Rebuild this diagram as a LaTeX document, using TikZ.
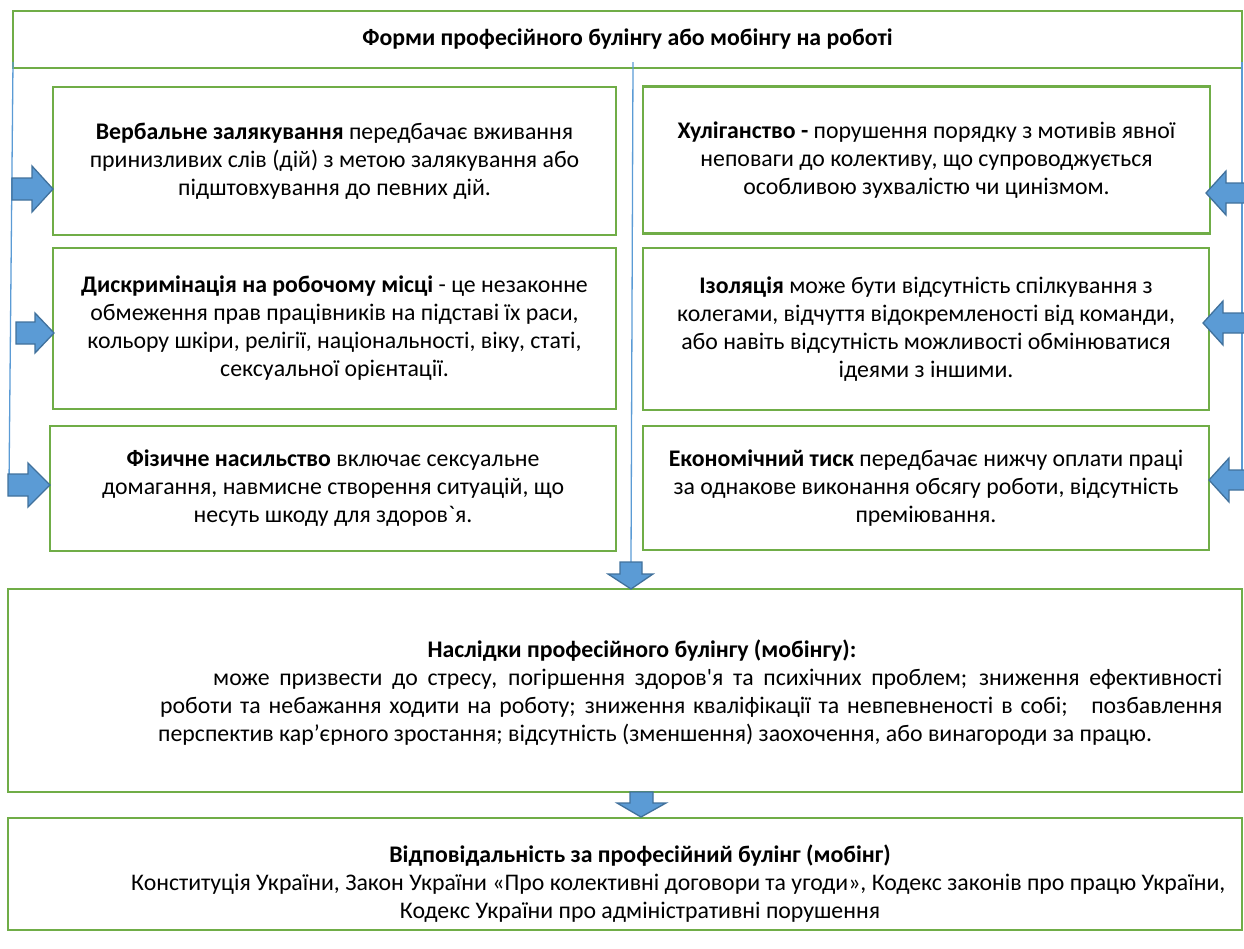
\documentclass[tikz,border=0pt]{standalone}
\usepackage{fontspec}
\setmainfont{Carlito}[Ligatures=TeXOff]
\definecolor{gr}{RGB}{112,173,71}
\definecolor{bl}{RGB}{91,155,213}
\definecolor{bld}{RGB}{65,113,156}
\tikzset{
  box/.style={draw=gr,line width=2.4pt,inner sep=0pt,align=center,font=\fontsize{23.8}{28}\selectfont},
  txt/.style={inner sep=0pt,font=\fontsize{23.8}{28}\selectfont},
  conn/.style={draw=bl,line width=1.3pt},
  barrow/.style={fill=bl,draw=bld,line width=1.3pt,line join=miter}
}
\begin{document}
\begin{tikzpicture}[x=1pt,y=-1pt]
\useasboundingbox (0,0) rectangle (1244,948);
% top box
\node[box,minimum width=1229pt,minimum height=57pt] (top) at (627.5,39.5)
  {\textbf{Форми професійного булінгу або мобінгу на роботі}};
% left column
\node[box,minimum width=563pt,minimum height=148pt] (b1) at (334.5,161)
  {\textbf{Вербальне залякування} передбачає вживання\\принизливих слів (дій) з метою залякування або\\підштовхування до певних дій.};
\node[box,minimum width=563pt,minimum height=161pt] (b2) at (334.5,328.5)
  {\textbf{Дискримінація на робочому місці} - це незаконне\\обмеження прав працівників на підставі їх раси,\\кольору шкіри, релігії, національності, віку, статі,\\сексуальної орієнтації.};
\node[box,minimum width=566pt,minimum height=125pt] (b3) at (333,488.5)
  {\textbf{Фізичне насильство} включає сексуальне\\домагання, навмисне створення ситуацій, що\\несуть шкоду для здоров`я.};
% right column
\node[box,minimum width=567pt,minimum height=147pt] (b4) at (926.5,160)
  {\textbf{Хуліганство -} порушення порядку з мотивів явної\\неповаги до колективу, що супроводжується\\особливою зухвалістю чи цинізмом.};
\node[box,minimum width=566pt,minimum height=162pt] (b5) at (926,329)
  {\textbf{Ізоляція} може бути відсутність спілкування з\\колегами, відчуття відокремленості від команди,\\або навіть відсутність можливості обмінюватися\\ідеями з іншими.};
\node[box,minimum width=566pt,minimum height=124pt] (b6) at (926,488)
  {\textbf{Економічний тиск} передбачає нижчу оплати праці\\за однакове виконання обсягу роботи, відсутність\\преміювання.};
% result box
\node[box,minimum width=1234pt,minimum height=203pt] (res) at (625,690.5) {};
\node[txt,anchor=base] (resT) at (642,657) {\textbf{Наслідки професійного булінгу (мобінгу):}};
\node[txt,anchor=base west] (resA) at (213,685) {\makebox[1009pt][s]{може призвести до стресу, погіршення здоров'я та психічних проблем; зниження ефективності}};
\node[txt,anchor=base west] (resB) at (160,713) {\makebox[1062pt][s]{роботи та небажання ходити на роботу; зниження кваліфікації та невпевненості в собі;\ \ \ позбавлення}};
\node[txt,anchor=base west] (resC) at (158,741) {перспектив кар’єрного зростання; відсутність (зменшення) заохочення, або винагороди за працю.};
% responsibility box
\node[box,minimum width=1234pt,minimum height=112pt] (resp) at (625,874) {};
\node[txt,anchor=base] (respT) at (640,862) {\textbf{Відповідальність за професійний булінг (мобінг)}};
\node[txt,anchor=base west] (respA) at (131,890) {Конституція України, Закон України «Про колективні договори та угоди», Кодекс законів про працю України,};
\node[txt,anchor=base] (respB) at (640,918) {Кодекс України про адміністративні порушення};
% connector lines
\coordinate (lt) at (13,62);
\coordinate (lb) at (9,485);
\coordinate (mt) at (633,62);
\coordinate (mb) at (631,562);
\coordinate (rt) at (1242,62);
\coordinate (rb) at (1242,482);
\draw[conn] (lt) -- (lb);
\draw[conn] (mt) -- (mb);
\draw[conn] (rt) -- (rb);
% left block arrows (pointing right)
\draw[barrow] (12,178) -- (32,178) -- (32,166) -- (53,189) -- (32,212) -- (32,200) -- (12,200) -- cycle;
\draw[barrow] (16,322) -- (35,322) -- (35,313) -- (54,333) -- (35,353) -- (35,344) -- (16,344) -- cycle;
\draw[barrow] (8,474) -- (28,474) -- (28,463) -- (50,485) -- (28,507) -- (28,496) -- (8,496) -- cycle;
% right block arrows (pointing left)
\draw[barrow] (1250,183) -- (1226,183) -- (1226,171) -- (1206,193) -- (1226,215) -- (1226,203) -- (1250,203) -- cycle;
\draw[barrow] (1250,313) -- (1223,313) -- (1223,301) -- (1203,323) -- (1223,345) -- (1223,333) -- (1250,333) -- cycle;
\draw[barrow] (1250,470) -- (1229,470) -- (1229,458) -- (1209,480) -- (1229,502) -- (1229,490) -- (1250,490) -- cycle;
% down arrows
\draw[barrow] (620,562) -- (642,562) -- (642,574) -- (653,574) -- (631,589) -- (608,574) -- (620,574) -- cycle;
\draw[barrow] (630,792) -- (653,792) -- (653,803) -- (666,803) -- (641,817) -- (617,803) -- (630,803) -- cycle;
\end{tikzpicture}
\end{document}
